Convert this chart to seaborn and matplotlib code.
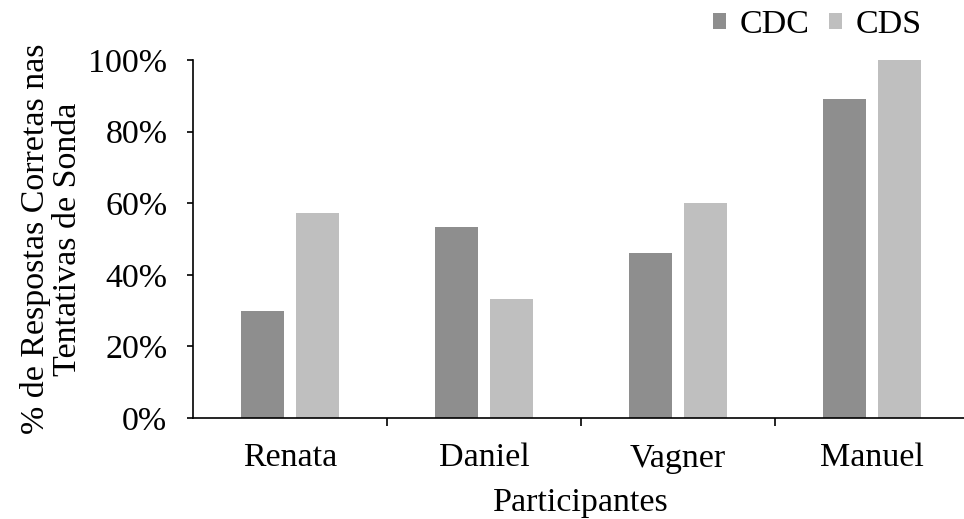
import matplotlib
matplotlib.use("Agg")
import matplotlib.pyplot as plt
import seaborn as sns
import pandas as pd
from matplotlib.patches import Patch

participants = ["Renata", "Daniel", "Vagner", "Manuel"]
series = ["CDC", "CDS"]
cdc = [30, 53.4, 46, 89]
cds = [57.3, 33.3, 60, 100]
yticks = [0, 20, 40, 60, 80, 100]
ytick_labels = ["0%", "20%", "40%", "60%", "80%", "100%"]
colors = {"CDC": "#8e8e8e", "CDS": "#bfbfbf"}

df = pd.DataFrame({
    "Participante": participants * 2,
    "Serie": ["CDC"] * 4 + ["CDS"] * 4,
    "Valor": cdc + cds,
})

sns.set_theme(style="white")
plt.rcParams["font.family"] = ["Liberation Serif", "DejaVu Serif"]
plt.rcParams["text.color"] = "black"
plt.rcParams["axes.labelcolor"] = "black"
plt.rcParams["xtick.color"] = "black"
plt.rcParams["ytick.color"] = "black"
FS = 24.5

fig = plt.figure(figsize=(9.64, 5.19), dpi=100)
ax = fig.add_axes([193/964, 1 - 418/519, 776/964, (418 - 60)/519])

sns.barplot(data=df, x="Participante", y="Valor", hue="Serie", order=participants,
            hue_order=series, palette=colors, width=0.56, gap=0.214,
            saturation=1, ax=ax, legend=False, linewidth=0)

ax.set_ylim(0, 100)
ax.set_xlim(-0.5, 3.5)
ax.set_yticks(yticks)
ax.set_yticklabels(ytick_labels, fontsize=FS)
ax.set_xticks(range(4))
ax.set_xticklabels(participants, fontsize=FS)
ax.set_xticks([0.5, 1.5, 2.5, 3.5], minor=True)
ax.tick_params(axis="x", which="major", bottom=True, length=0, pad=18)
ax.tick_params(axis="x", which="minor", bottom=True, length=6, width=1.2,
               direction="out", color="black")
ax.tick_params(axis="y", which="major", left=True, length=4.5, width=1.2,
               direction="out", color="black", pad=14)

for s in ["top", "right"]:
    ax.spines[s].set_visible(False)
for s in ["left", "bottom"]:
    ax.spines[s].set_color("black")
    ax.spines[s].set_linewidth(1.2)

ax.set_xlabel("Participantes", fontsize=FS, labelpad=10)
ax.set_ylabel("% de Respostas Corretas nas\nTentativas de Sonda", fontsize=FS,
              labelpad=4, linespacing=1.05)

handles = [Patch(facecolor=colors[s], edgecolor="none", label=s) for s in series]
fig.legend(handles=handles, loc="center right", bbox_to_anchor=(0.97, 1 - 25/519),
           ncol=2, frameon=False, fontsize=FS, handlelength=0.36, handleheight=0.36,
           handletextpad=0.4, columnspacing=0.6, borderaxespad=0)

fig.savefig("out.png", dpi=100)
